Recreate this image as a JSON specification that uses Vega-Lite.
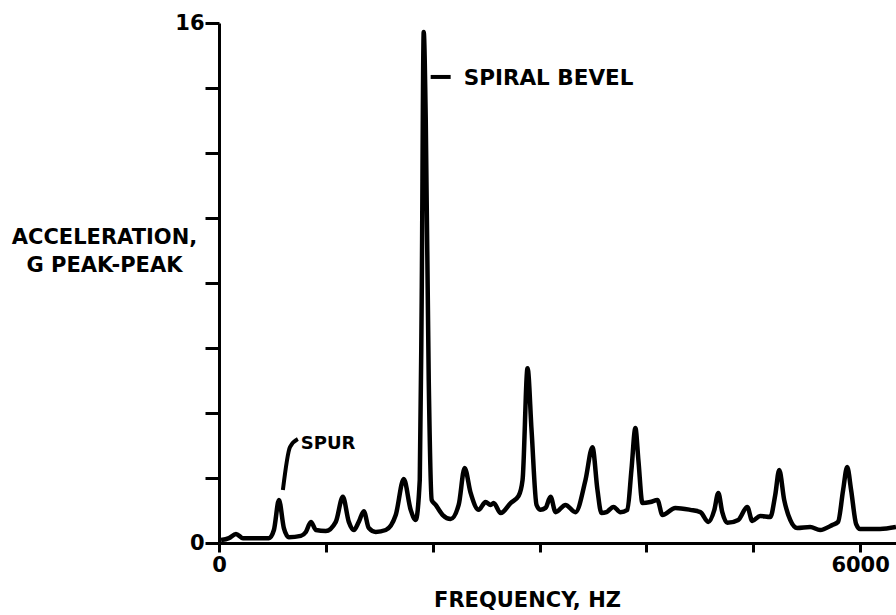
{
  "$schema": "https://vega.github.io/schema/vega-lite/v6.json",
  "autosize": "none",
  "width": 677,
  "height": 520,
  "padding": {"left": 219, "top": 23, "right": 0, "bottom": 72},
  "background": "white",
  "config": {"view": {"stroke": null}, "font": "DejaVu Sans"},
  "datasets": {
    "spectrum": [
      {"hz": 19, "g": 0.09}, {"hz": 93, "g": 0.15}, {"hz": 159, "g": 0.28}, {"hz": 224, "g": 0.15},
      {"hz": 346, "g": 0.15}, {"hz": 467, "g": 0.15}, {"hz": 514, "g": 0.4}, {"hz": 561, "g": 1.32},
      {"hz": 607, "g": 0.46}, {"hz": 654, "g": 0.18}, {"hz": 766, "g": 0.22}, {"hz": 813, "g": 0.34},
      {"hz": 860, "g": 0.65}, {"hz": 907, "g": 0.4}, {"hz": 1000, "g": 0.37}, {"hz": 1093, "g": 0.65},
      {"hz": 1159, "g": 1.42}, {"hz": 1215, "g": 0.65}, {"hz": 1262, "g": 0.4}, {"hz": 1308, "g": 0.65},
      {"hz": 1355, "g": 0.98}, {"hz": 1402, "g": 0.46}, {"hz": 1467, "g": 0.34}, {"hz": 1561, "g": 0.4},
      {"hz": 1654, "g": 0.86}, {"hz": 1729, "g": 1.97}, {"hz": 1794, "g": 1.02}, {"hz": 1841, "g": 0.71},
      {"hz": 1879, "g": 1.94}, {"hz": 1897, "g": 7.48}, {"hz": 1916, "g": 15.72}, {"hz": 1935, "g": 13.0},
      {"hz": 1963, "g": 5.0}, {"hz": 1991, "g": 1.32}, {"hz": 2028, "g": 1.17}, {"hz": 2094, "g": 0.86},
      {"hz": 2168, "g": 0.74}, {"hz": 2243, "g": 1.17}, {"hz": 2299, "g": 2.31}, {"hz": 2355, "g": 1.54},
      {"hz": 2430, "g": 1.02}, {"hz": 2495, "g": 1.26}, {"hz": 2542, "g": 1.17}, {"hz": 2570, "g": 1.23},
      {"hz": 2636, "g": 0.92}, {"hz": 2729, "g": 1.23}, {"hz": 2804, "g": 1.45}, {"hz": 2841, "g": 1.94},
      {"hz": 2888, "g": 5.38}, {"hz": 2925, "g": 3.48}, {"hz": 2972, "g": 1.17}, {"hz": 3009, "g": 1.02},
      {"hz": 3056, "g": 1.08}, {"hz": 3103, "g": 1.42}, {"hz": 3150, "g": 0.95}, {"hz": 3243, "g": 1.17},
      {"hz": 3336, "g": 0.95}, {"hz": 3430, "g": 1.94}, {"hz": 3495, "g": 2.95}, {"hz": 3542, "g": 1.63},
      {"hz": 3579, "g": 0.92}, {"hz": 3626, "g": 0.95}, {"hz": 3692, "g": 1.11}, {"hz": 3757, "g": 0.95},
      {"hz": 3822, "g": 1.02}, {"hz": 3860, "g": 2.25}, {"hz": 3897, "g": 3.54}, {"hz": 3925, "g": 2.55},
      {"hz": 3963, "g": 1.23}, {"hz": 4037, "g": 1.26}, {"hz": 4103, "g": 1.32}, {"hz": 4150, "g": 0.86},
      {"hz": 4271, "g": 1.08}, {"hz": 4411, "g": 1.02}, {"hz": 4505, "g": 0.95}, {"hz": 4579, "g": 0.65},
      {"hz": 4636, "g": 1.02}, {"hz": 4673, "g": 1.54}, {"hz": 4710, "g": 0.95}, {"hz": 4757, "g": 0.62},
      {"hz": 4860, "g": 0.71}, {"hz": 4944, "g": 1.11}, {"hz": 4991, "g": 0.68}, {"hz": 5065, "g": 0.83},
      {"hz": 5159, "g": 0.8}, {"hz": 5206, "g": 1.48}, {"hz": 5243, "g": 2.25}, {"hz": 5290, "g": 1.32},
      {"hz": 5346, "g": 0.71}, {"hz": 5411, "g": 0.46}, {"hz": 5533, "g": 0.49}, {"hz": 5626, "g": 0.4},
      {"hz": 5738, "g": 0.55}, {"hz": 5794, "g": 0.65}, {"hz": 5841, "g": 1.63}, {"hz": 5879, "g": 2.34},
      {"hz": 5916, "g": 1.63}, {"hz": 5963, "g": 0.58}, {"hz": 6000, "g": 0.43}, {"hz": 6187, "g": 0.43},
      {"hz": 6336, "g": 0.49}
    ],
    "leader": [
      {"hz": 598, "g": 1.63, "k": 0},
      {"hz": 664, "g": 2.95, "k": 1},
      {"hz": 738, "g": 3.2, "k": 2}
    ],
    "dash": [
      {"hz": 1981, "hz2": 2168, "g": 14.34}
    ],
    "notes": [
      {"hz": 2290, "g": 14.28, "label": "SPIRAL BEVEL", "kind": "big"},
      {"hz": 766, "g": 3.06, "label": "SPUR", "kind": "small"}
    ]
  },
  "layer": [
    {
      "data": {"name": "spectrum"},
      "mark": {"type": "line", "color": "black", "strokeWidth": 4.5, "strokeJoin": "round", "interpolate": "monotone", "clip": true},
      "encoding": {
        "x": {
          "field": "hz", "type": "quantitative",
          "scale": {"domain": [0, 6336], "nice": false},
          "axis": {
            "values": [0, 1000, 2000, 3000, 4000, 5000, 6000],
            "format": "d",
            "labelExpr": "datum.value == 0 || datum.value == 6000 ? datum.label : ''",
            "labelFlush": false,
            "labelOverlap": false,
            "labelFont": "DejaVu Sans", "labelFontSize": 21, "labelFontWeight": "bold", "labelColor": "black",
            "labelPadding": 2,
            "tickSize": 9, "tickWidth": 3, "tickColor": "black",
            "domainWidth": 3, "domainColor": "black",
            "grid": false,
            "title": "FREQUENCY, HZ",
            "titleFont": "DejaVu Sans", "titleFontSize": 21, "titleFontWeight": "bold", "titleColor": "black",
            "titleX": 308, "titleY": 57, "titleAlign": "center", "titleBaseline": "middle", "titleAnchor": null
          }
        },
        "y": {
          "field": "g", "type": "quantitative",
          "scale": {"domain": [0, 16], "nice": false},
          "axis": {
            "values": [0, 2, 4, 6, 8, 10, 12, 14, 16],
            "labelExpr": "datum.value == 0 || datum.value == 16 ? datum.label : ''",
            "labelOverlap": false,
            "labelFont": "DejaVu Sans", "labelFontSize": 21, "labelFontWeight": "bold", "labelColor": "black",
            "labelPadding": 1,
            "tickSize": 14, "tickWidth": 3, "tickColor": "black",
            "domainWidth": 3, "domainColor": "black",
            "grid": false,
            "title": ["ACCELERATION,", "G PEAK-PEAK"],
            "titleFont": "DejaVu Sans", "titleFontSize": 21, "titleFontWeight": "bold", "titleColor": "black",
            "titleAngle": 0, "titleX": -115, "titleY": 203, "titleAlign": "center", "titleBaseline": "top",
            "titleLineHeight": 28, "titleAnchor": null
          }
        }
      }
    },
    {
      "mark": {"type": "rule", "color": "black", "strokeWidth": 3},
      "encoding": {"y": {"datum": 16}}
    },
    {
      "data": {"name": "dash"},
      "mark": {"type": "rule", "color": "black", "strokeWidth": 4},
      "encoding": {
        "x": {"field": "hz", "type": "quantitative"},
        "x2": {"field": "hz2"},
        "y": {"field": "g", "type": "quantitative"}
      }
    },
    {
      "data": {"name": "notes"},
      "transform": [{"filter": "datum.kind == 'big'"}],
      "mark": {"type": "text", "align": "left", "baseline": "middle", "font": "DejaVu Sans", "fontSize": 21.5, "fontWeight": "bold", "color": "black"},
      "encoding": {
        "x": {"field": "hz", "type": "quantitative"},
        "y": {"field": "g", "type": "quantitative"},
        "text": {"field": "label"}
      }
    },
    {
      "data": {"name": "notes"},
      "transform": [{"filter": "datum.kind == 'small'"}],
      "mark": {"type": "text", "align": "left", "baseline": "middle", "font": "DejaVu Sans", "fontSize": 18, "fontWeight": "bold", "color": "black"},
      "encoding": {
        "x": {"field": "hz", "type": "quantitative"},
        "y": {"field": "g", "type": "quantitative"},
        "text": {"field": "label"}
      }
    },
    {
      "data": {"name": "leader"},
      "mark": {"type": "line", "color": "black", "strokeWidth": 4, "interpolate": "monotone"},
      "encoding": {
        "x": {"field": "hz", "type": "quantitative"},
        "y": {"field": "g", "type": "quantitative"},
        "order": {"field": "k"}
      }
    }
  ]
}
